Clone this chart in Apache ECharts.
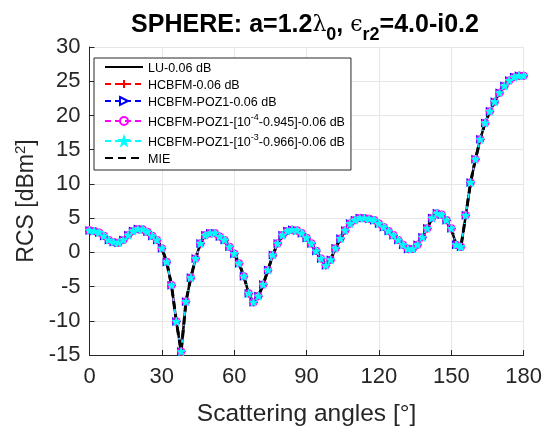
<!DOCTYPE html>
<html><head><meta charset="utf-8">
<script src="https://cdn.jsdelivr.net/npm/echarts@6/dist/echarts.min.js"></script>
<style>html,body{margin:0;padding:0;background:#fff}#c{width:545px;height:432px}</style>
</head><body><div id="c"></div>
<script>
var angles = [0,2,4,6,8,10,12,14,16,18,20,22,24,26,28,30,32,34,36,38,40,42,44,46,48,50,52,54,56,58,60,62,64,66,68,70,72,74,76,78,80,82,84,86,88,90,92,94,96,98,100,102,104,106,108,110,112,114,116,118,120,122,124,126,128,130,132,134,136,138,140,142,144,146,148,150,152,154,156,158,160,162,164,166,168,170,172,174,176,178,180];
var rcsMie = [3.2,3.1,2.9,2.4,1.8,1.5,1.4,1.8,2.5,3.1,3.4,3.35,3.0,2.4,1.8,0.6,-1.4,-4.8,-10.1,-14.5,-7.2,-3.7,-0.9,1.3,2.5,2.8,2.8,2.3,1.8,0.8,-0.2,-1.6,-3.5,-6.0,-7.3,-6.4,-4.7,-2.6,-0.4,1.3,2.5,3.1,3.3,3.2,2.8,2.1,1.3,0.2,-0.9,-1.9,-1.1,0.6,2.0,3.2,4.2,4.7,5.0,5.0,4.9,4.7,4.2,3.7,3.1,2.5,1.8,1.1,0.5,0.5,1.1,2.2,3.5,5.0,5.7,5.5,4.7,3.5,1.1,0.8,5.4,10.2,13.6,16.5,18.9,20.6,22.0,23.3,24.3,25.1,25.6,25.8,25.8];
var rcsLU = rcsMie.slice();
var rcsHCBFM = rcsMie.slice();
var rcsPOZ1 = rcsMie.slice();
var rcsPOZ1e4 = rcsMie.slice();
var rcsPOZ1e3 = rcsMie.slice();
var xTicks = [0,30,60,90,120,150,180];
var yTicks = [-15,-10,-5,0,5,10,15,20,25,30];
var seriesNames = ['LU-0.06 dB','HCBFM-0.06 dB','HCBFM-POZ1-0.06 dB','HCBFM-POZ1-[10^-4-0.945]-0.06 dB','HCBFM-POZ1-[10^-3-0.966]-0.06 dB','MIE'];

function pairs(v){ return angles.map(function(a,i){return [a,v[i]];}); }
var TXT = '#262626';
var FONT = 'Liberation Sans, Arial, sans-serif';
var plus = 'path://M0,-10 L0,10 M-10,0 L10,0';
var triR = 'path://M0,0 L17,10 L0,20 Z';
var star = 'path://M0,-10 L2.35,-3.24 L9.51,-3.09 L3.8,1.24 L5.88,8.09 L0,4 L-5.88,8.09 L-3.8,1.24 L-9.51,-3.09 L-2.35,-3.24 Z';

var chart = echarts.init(document.getElementById('c'), null, {renderer:'canvas'});
var mk = function(name, data, color, symbol, size, extra){
  var s = {
    name: name, type:'line', data: pairs(data), symbol: symbol, symbolSize: size,
    showSymbol: symbol !== 'none', animation:false, z: 2,
    lineStyle:{color:color, width:1.5, type:[6,4]},
    itemStyle:{color:'rgba(0,0,0,0)', borderColor:color, borderWidth:1.2},
    emphasis:{disabled:true}
  };
  for (var k in extra) s[k]=extra[k];
  return s;
};
var hideSym = {color:'rgba(0,0,0,0)', borderColor:'rgba(0,0,0,0)', borderWidth:0};
var option = {
  backgroundColor:'#fff',
  animation:false,
  title:{
    text:'{b|SPHERE: a=1.2}{g|λ}{s|0}{b|, }{g|ϵ}{s|r2}{b|=4.0-i0.2}',
    left: 300, textAlign:'center', top: 1,
    textStyle:{ rich:{
      b:{fontFamily:FONT, fontWeight:'bold', fontSize:25, color:'#000', lineHeight:38, verticalAlign:'middle'},
      g:{fontFamily:'DejaVu Serif, serif', fontWeight:'normal', fontSize:22, color:'#000', lineHeight:38, verticalAlign:'middle'},
      s:{fontFamily:FONT, fontWeight:'bold', fontSize:18, color:'#000', lineHeight:38, verticalAlign:'bottom'}
    }}
  },
  grid:{left:89.5, right:21, top:47, bottom:75, containLabel:false, show:false},
  legend:{
    orient:'vertical', left:94, top:58, padding:[4,6,4,10], itemGap:4,
    itemWidth:38, itemHeight:10,
    backgroundColor:'#fff', borderColor:TXT, borderWidth:1,
    data: [
      {name:seriesNames[0], itemStyle:hideSym},
      seriesNames[1], seriesNames[2], seriesNames[3], seriesNames[4],
      {name:seriesNames[5], itemStyle:hideSym}
    ],
    formatter:function(n){
      return n.replace('^-4','{sup|-4}').replace('^-3','{sup|-3}').replace(/(^|\})([^{}]+)(\{|$)/g, function(m,a,b,c){return a+'{t|'+b+'}'+c;});
    },
    textStyle:{ color:'#000', fontFamily:FONT, fontSize:12.5,
      rich:{ t:{fontSize:12.5, fontFamily:FONT, color:'#000', lineHeight:16, verticalAlign:'bottom'},
             sup:{fontSize:9, fontFamily:FONT, color:'#000', lineHeight:16, verticalAlign:'top'} } }
  },
  xAxis:{
    type:'value', min:0, max:180, interval:30,
    name:'Scattering angles [°]', nameLocation:'middle', nameGap:47,
    nameTextStyle:{fontFamily:FONT, fontSize:24.5, color:TXT},
    axisLine:{show:true, onZero:false, lineStyle:{color:TXT, width:1}},
    axisTick:{show:true, inside:true, length:5, lineStyle:{color:TXT}},
    axisLabel:{fontFamily:FONT, fontSize:22, color:TXT, margin:11},
    splitLine:{show:true, lineStyle:{color:'#e6e6e6', width:1}}
  },
  yAxis:{
    type:'value', min:-15, max:30, interval:5,
    name:'RCS [dBm{sup|2}]', nameLocation:'middle', nameGap:49, nameRotate:90,
    nameTextStyle:{fontFamily:FONT, fontSize:23, color:TXT,
      rich:{sup:{fontSize:15, fontFamily:FONT, color:TXT, verticalAlign:'top', lineHeight:26}}},
    axisLine:{show:true, onZero:false, lineStyle:{color:TXT, width:1}},
    axisTick:{show:true, inside:true, length:5, lineStyle:{color:TXT}},
    axisLabel:{fontFamily:FONT, fontSize:22, color:TXT, margin:9},
    splitLine:{show:true, lineStyle:{color:'#e6e6e6', width:1}}
  },
  series:[
    mk(seriesNames[0], rcsLU, '#000', 'none', 0, {lineStyle:{color:'#000', width:2.5, type:'solid'}}),
    mk(seriesNames[1], rcsHCBFM, '#ff0000', plus, 8, {}),
    mk(seriesNames[2], rcsPOZ1, '#0000ff', triR, 7, {}),
    mk(seriesNames[3], rcsPOZ1e4, '#ff00ff', 'circle', 7, {}),
    mk(seriesNames[4], rcsPOZ1e3, '#00ffff', star, 8, {itemStyle:{color:'#00ffff', borderColor:'#00ffff', borderWidth:1}}),
    mk(seriesNames[5], rcsMie, '#000', 'none', 0, {lineStyle:{color:'#000', width:3, type:[8,5]}})
  ]
};
chart.setOption(option);
</script></body></html>
